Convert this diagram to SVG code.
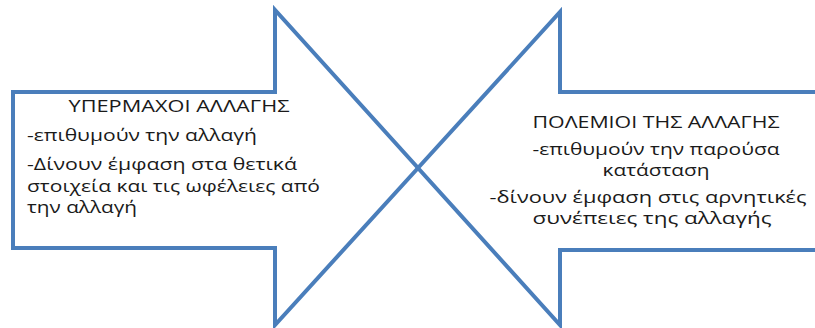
<svg xmlns="http://www.w3.org/2000/svg" width="815" height="328" viewBox="0 0 815 328">
<style>
.arrow{fill:#ffffff;stroke:#4a7ebb;stroke-width:4;stroke-linejoin:miter}
.t{font-family:"Open Sans","Liberation Sans",sans-serif;font-size:16.5px;fill:#1a1a1a}
.c{text-anchor:middle}
</style>
<rect width="815" height="328" fill="#ffffff"/>
<g id="connectors"></g>
<g id="left-arrow">
<path class="arrow" d="M13,92 L275,92 L275,10 L418,168 L275,325 L275,248 L13,248 Z"/>
<text class="t c" x="179" y="112" textLength="221" lengthAdjust="spacingAndGlyphs">ΥΠΕΡΜΑΧΟΙ ΑΛΛΑΓΗΣ</text>
<text class="t" x="27" y="141" textLength="230" lengthAdjust="spacingAndGlyphs">-επιθυμούν την αλλαγή</text>
<text class="t" x="27" y="170" textLength="270" lengthAdjust="spacingAndGlyphs">-Δίνουν έμφαση στα θετικά</text>
<text class="t" x="27" y="192" textLength="293" lengthAdjust="spacingAndGlyphs">στοιχεία και τις ωφέλειες από</text>
<text class="t" x="27" y="213" textLength="110" lengthAdjust="spacingAndGlyphs">την αλλαγή</text>
</g>
<g id="right-arrow">
<path class="arrow" d="M830,92 L560,92 L560,12 L418,168 L560,325 L560,250 L830,250 Z"/>
<text class="t c" x="656" y="128" textLength="247" lengthAdjust="spacingAndGlyphs">ΠΟΛΕΜΙΟΙ ΤΗΣ ΑΛΛΑΓΗΣ</text>
<text class="t c" x="656" y="155" textLength="247" lengthAdjust="spacingAndGlyphs">-επιθυμούν την παρούσα</text>
<text class="t c" x="656" y="176" textLength="107" lengthAdjust="spacingAndGlyphs">κατάσταση</text>
<text class="t c" x="648" y="203" textLength="317" lengthAdjust="spacingAndGlyphs">-δίνουν έμφαση στις αρνητικές</text>
<text class="t c" x="652" y="224" textLength="239" lengthAdjust="spacingAndGlyphs">συνέπειες της αλλαγής</text>
</g>
</svg>
